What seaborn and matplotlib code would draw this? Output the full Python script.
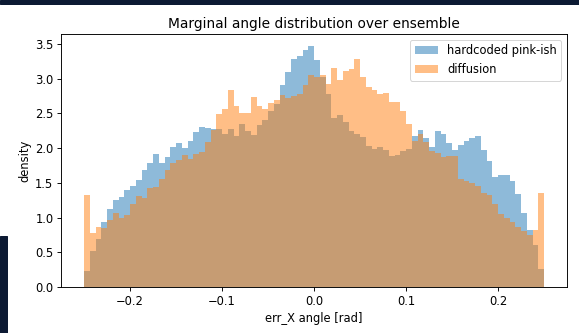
import numpy as np
import pandas as pd
import matplotlib
matplotlib.use("Agg")
import matplotlib.pyplot as plt
from matplotlib.patches import Rectangle
import seaborn as sns

# ---- data ----
bin_lo, bin_hi, n_bins = -0.25, 0.25, 80

hardcoded = [
    0.23, 0.52, 0.69, 0.94, 1.12, 1.25, 1.30, 1.40, 1.45, 1.54,
    1.68, 1.78, 1.92, 1.79, 1.87, 2.02, 2.08, 2.00, 2.10, 2.23,
    2.30, 2.29, 2.28, 2.28, 2.21, 2.28, 2.18, 2.35, 2.24, 2.19,
    2.34, 2.40, 2.53, 2.63, 2.91, 3.10, 3.28, 3.33, 3.42, 3.47,
    3.27, 3.03, 2.78, 2.43, 2.47, 2.38, 2.24, 2.21, 2.16, 2.03,
    1.99, 2.01, 1.97, 1.89, 1.90, 1.96, 1.99, 2.18, 2.26, 2.14,
    2.02, 2.24, 2.21, 2.07, 1.97, 2.04, 2.10, 2.14, 2.18, 1.97,
    1.81, 1.58, 1.61, 1.62, 1.52, 1.34, 1.06, 0.82, 0.60, 0.26,
]

diffusion = [
    1.32, 0.78, 0.86, 0.85, 0.97, 1.07, 1.00, 1.04, 1.20, 1.31,
    1.28, 1.42, 1.44, 1.56, 1.68, 1.79, 1.83, 1.90, 1.85, 1.92,
    1.95, 2.09, 2.26, 2.49, 2.56, 2.84, 2.60, 2.51, 2.50, 2.73,
    2.61, 2.56, 2.65, 2.69, 2.77, 2.72, 2.75, 2.78, 2.91, 3.06,
    3.03, 3.05, 2.93, 3.15, 2.98, 3.11, 3.14, 3.28, 3.03, 2.88,
    2.84, 2.78, 2.79, 2.66, 2.66, 2.53, 2.35, 2.10, 2.21, 2.09,
    1.96, 1.93, 1.87, 1.89, 1.88, 1.55, 1.52, 1.50, 1.45, 1.35,
    1.32, 1.20, 1.05, 1.00, 0.93, 0.86, 0.81, 0.75, 0.82, 1.36,
]

labels = ["hardcoded pink-ish", "diffusion"]
title = "Marginal angle distribution over ensemble"
xlabel = "err_X angle [rad]"
ylabel = "density"

# ---- figure ----
W, H, DPI = 579, 333, 72
fs = 1.15
plt.rcParams.update({
    "font.size": 10 * fs,
    "xtick.major.size": 3.5 * fs,
    "ytick.major.size": 3.5 * fs,
    "axes.linewidth": 0.8 * fs,
    "xtick.major.width": 0.8 * fs,
    "ytick.major.width": 0.8 * fs,
})
fig = plt.figure(figsize=(W / DPI, H / DPI), dpi=DPI)
ax = fig.add_axes([61 / W, 1 - 287 / H, (567 - 61) / W, (287 - 34) / H])

edges = np.linspace(bin_lo, bin_hi, n_bins + 1)
centers = 0.5 * (edges[:-1] + edges[1:])

for vals, col, lab in [(hardcoded, "#1f77b4", labels[0]),
                       (diffusion, "#ff7f0e", labels[1])]:
    df = pd.DataFrame({"angle": centers, "w": vals})
    sns.histplot(data=df, x="angle", weights="w", bins=n_bins,
                 binrange=(bin_lo, bin_hi), stat="count", element="step",
                 fill=True, color=col, alpha=0.5, linewidth=0,
                 label=lab, ax=ax)

ax.set_title(title, fontsize=12 * fs)
ax.set_xlabel(xlabel, fontsize=10 * fs)
ax.set_ylabel(ylabel, fontsize=10 * fs)
ax.set_yticks(np.arange(0, 3.51, 0.5))
ax.legend(loc="upper right", fontsize=10 * fs)

# screenshot frame artifacts
dark = "#0c1a33"
fig.patches.append(Rectangle((0, 1 - 4 / H), 1, 4 / H, transform=fig.transFigure,
                             color=dark, zorder=10))
fig.patches.append(Rectangle((0, 0), 7 / W, 97 / H, transform=fig.transFigure,
                             color=dark, zorder=10))

fig.savefig("out.png", dpi=DPI)
